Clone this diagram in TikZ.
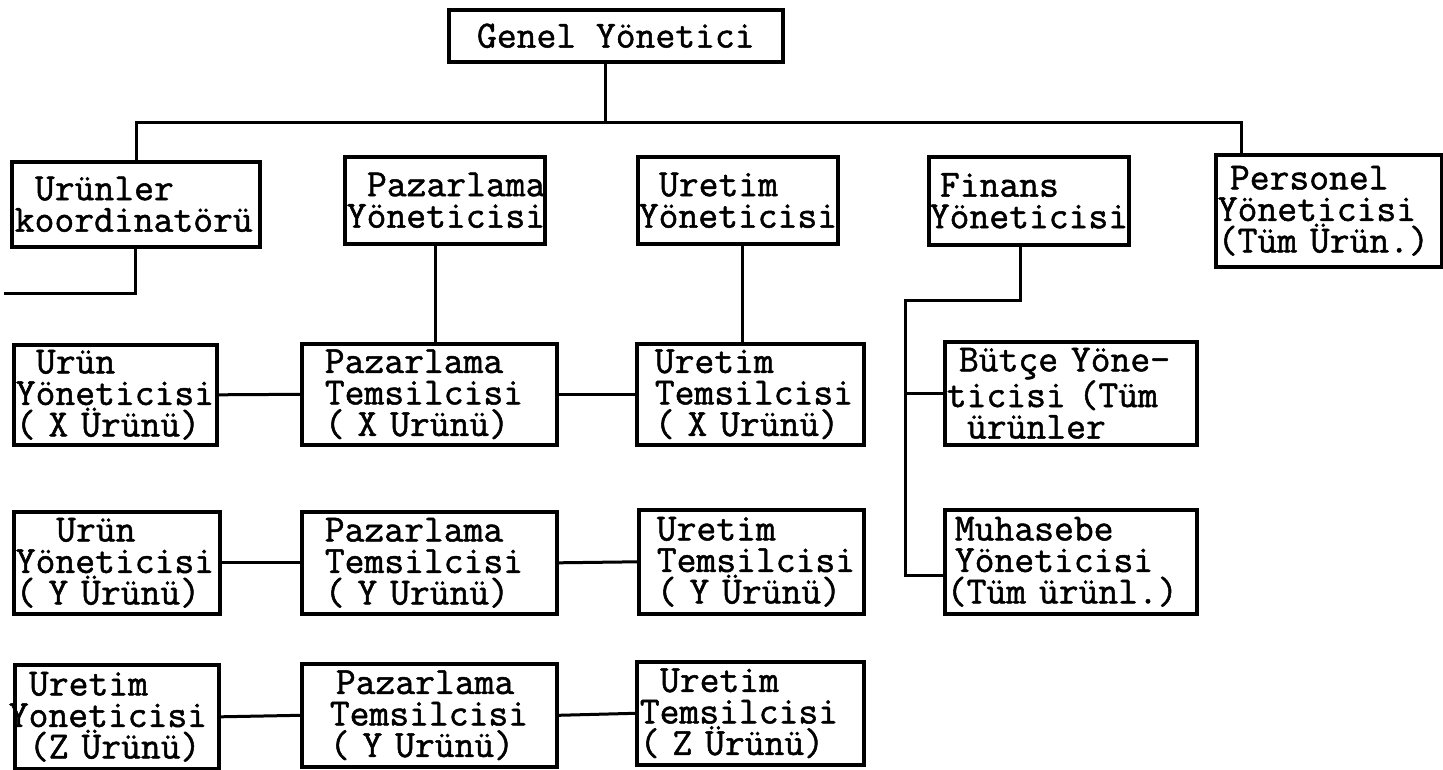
\documentclass[tikz,border=0pt]{standalone}
\usepackage{fontspec}
\newfontfamily\typewriter{Latin Modern Mono}[FakeBold=1.3]
\newlength{\cw}
\newcommand{\ind}[1]{\hspace*{#1\cw}}
\tikzset{
  orgbox/.style={draw=black, line width=3.6pt, anchor=north west, inner ysep=0pt,
    align=left, font=\typewriter\fontsize{38.5}{31.5}\selectfont\setlength{\cw}{20.2pt}},
  link/.style={draw=black, line width=3pt}
}
% box from (x1,y1) to (x2,y2) with left padding p
\newcommand{\orgnode}[7]{%
  \pgfmathsetmacro{\bw}{#4-#2}\pgfmathsetmacro{\bh}{#5-#3}\pgfmathsetmacro{\tw}{#4-#2-2*#6}%
  \node[orgbox, minimum width=\bw pt, minimum height=\bh pt, text width=\tw pt, inner xsep=#6pt] (#1) at (#2,#3) {#7};}
\begin{document}
\begin{tikzpicture}[x=1pt,y=-1pt]
\fill[white] (0,0) rectangle (1443,769);
\useasboundingbox (0,0) rectangle (1443,769);

% top
\node[orgbox, anchor=north west, minimum width=334pt, minimum height=52pt, align=center, inner xsep=0pt] (G) at (447,8) {Genel Yönetici};

% second level
\orgnode{UK}{10}{160}{258}{245}{3}{\ind{1}Urünler\\koordinatörü}
\orgnode{PY}{343}{155}{543}{242}{2}{\ind{1}Pazarlama\\Yöneticisi}
\orgnode{UY}{636}{155}{836}{242}{1}{\ind{1}Uretim\\Yöneticisi}
\orgnode{FY}{927}{155}{1127}{243}{1}{\ind{.5}Finans\\Yöneticisi}
\orgnode{PE}{1214}{153}{1440}{265}{2}{\ind{.6}Personel\\Yöneticisi\\(Tüm Ürün.)}

% X row
\orgnode{UX}{12}{343}{215}{443}{2}{\ind{1}Urün\\Yöneticisi\\( X Ürünü)}
\orgnode{PTX}{300}{342}{555}{443}{23}{Pazarlama\\Temsilcisi\\( X Urünü)}
\orgnode{UTX}{635}{342}{862}{443}{18}{Uretim\\Temsilcisi\\( X Urünü)}
\orgnode{BU}{943}{340}{1195}{443}{2}{\ind{.6}Bütçe Yöne-\\ticisi (Tüm\\\ind{1}ürünler}

% Y row
\orgnode{UY2}{12}{510}{218}{612}{2}{\ind{2}Urün\\Yöneticisi\\( Y Ürünü)}
\orgnode{PTY}{300}{510}{555}{612}{23}{Pazarlama\\Temsilcisi\\( Y Urünü)}
\orgnode{UTY}{637}{508}{862}{612}{18}{Uretim\\Temsilcisi\\( Y Ürünü)}
\orgnode{MU}{943}{508}{1195}{612}{2}{\ind{.4}Muhasebe\\\ind{.4}Yöneticisi\\(Tüm ürünl.)}

% Z row
\orgnode{UZ}{13}{663}{217}{767}{-6}{\ind{1}Uretim\\Yoneticisi\\\ind{1}(Z Ürünü)}
\orgnode{PTY2}{300}{662}{555}{765}{28}{\ind{.3}Pazarlama\\Temsilcisi\\( Y Urünü)}
\orgnode{UTZ}{635}{660}{862}{763}{3}{\ind{1}Uretim\\Temsilcisi\\( Z Ürünü)}

% main bus
\coordinate (busL) at (136,122);
\coordinate (busR) at (1241,122);
\coordinate (busM) at (605,122);
\draw[link] (busL |- UK.north) -- (busL) -- (busR) -- (busR |- PE.north);
\draw[link] (busM |- G.south) -- (busM);

% product coordinator branch
\coordinate (ukend) at (4,293);
\draw[link] (UK.south) |- (ukend);

% functional lines
\coordinate (pyx) at (435,0);
\coordinate (uyx) at (742,0);
\draw[link] (PY.south -| pyx) -- (PTX.north -| pyx);
\draw[link] (UY.south -| uyx) -- (UTX.north -| uyx);

% finance branch
\coordinate (fx) at (1020,0);
\coordinate (spt) at (905,300);
\coordinate (spb) at (905,575);
\draw[link] (FY.south -| fx) |- (spt) -- (spb) -- (spb -| MU.west);
\draw[link] (spt |- BU.west) -- (BU.west);

% horizontal links
\draw[link] (UX.east) -- (PTX.west);
\draw[link] (PTX.east) -- (UTX.west);
\draw[link] (UY2.east) -- (PTY.west);
\draw[link] (PTY.east) -- (UTY.west);
\draw[link] (UZ.east) -- (PTY2.west);
\draw[link] (PTY2.east) -- (UTZ.west);
\end{tikzpicture}
\end{document}
